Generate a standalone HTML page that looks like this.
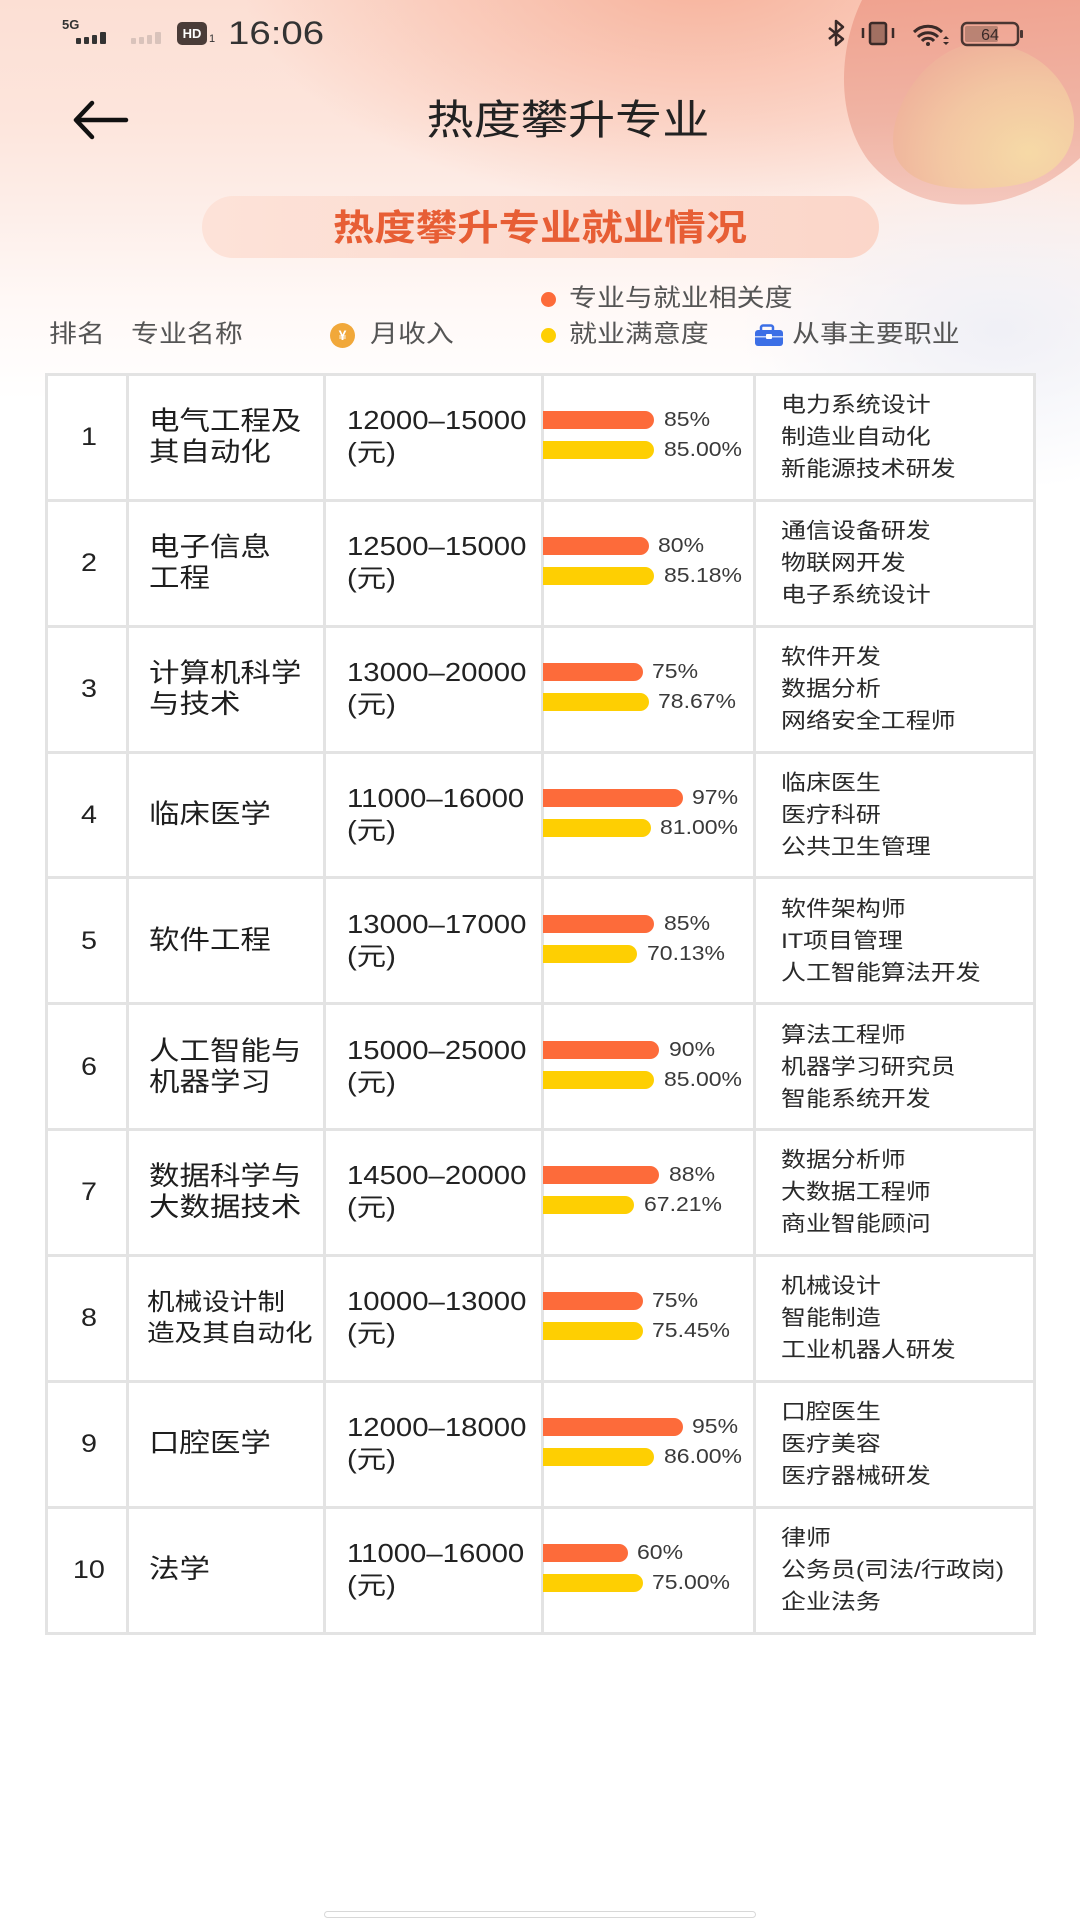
<!DOCTYPE html>
<html><head><meta charset="utf-8">
<style>
*{margin:0;padding:0;box-sizing:border-box}
html,body{width:1080px;height:1920px;overflow:hidden;background:#fff}
body{position:relative;font-family:"Liberation Sans","Noto Sans CJK SC",sans-serif;color:#222}
.abs{position:absolute}
.sx{display:inline-block;transform:scaleX(1.15);transform-origin:0 50%;white-space:nowrap}
.sxc{display:inline-block;transform:scaleX(1.15);transform-origin:50% 50%;white-space:nowrap}
.bgtop{position:absolute;left:0;top:0;width:1080px;height:520px;
background:
radial-gradient(ellipse 260px 160px at 1000px 330px, rgba(238,239,246,0.9), rgba(238,239,246,0) 100%),
radial-gradient(ellipse 460px 240px at 700px -30px, rgba(246,170,145,0.85), rgba(246,170,145,0) 100%),
linear-gradient(180deg,#fcdfd4 0px,#fde5dc 120px,#fdefea 220px,#fff8f6 300px,#ffffff 400px);}
.tbl{position:absolute;left:46px;top:374px;width:988px;height:1259px;background:#fff}
.vl{position:absolute;top:373px;width:3px;height:1262px;background:#e3e3e3}
.hl{position:absolute;left:45px;width:991px;height:3px;background:#e3e3e3}
.row{position:absolute;left:0;width:1080px;height:126px}
.rk{position:absolute;left:46px;width:86px;top:48px;line-height:30px;text-align:center;font-size:25px;color:#222}
.nm{position:absolute;left:149px;top:32px;line-height:31px;font-size:26.5px;color:#1e1e1e}
.nm1{top:47px}
.nm8{font-size:24px;left:147px}
.inc{position:absolute;left:347px;top:31px;line-height:32px;font-size:25.5px;color:#222}
.bo,.by{position:absolute;left:543px;height:18px;border-radius:0 9px 9px 0}
.bo{top:37px;background:#fd6b3a}
.by{top:67px;background:#fecf02}
.lo,.ly{position:absolute;line-height:24px;font-size:20px;color:#3a3a3a}
.lo{top:34px}
.ly{top:64px}
.jb{position:absolute;left:781px;top:15px;line-height:32px;font-size:21.7px;color:#2a2a2a}
.lg{position:absolute;font-size:24.3px;line-height:30px;color:#555}
.dot{position:absolute;width:15px;height:15px;border-radius:50%}
</style></head><body>
<div class="bgtop"></div>
<svg class="abs" style="left:0;top:0" width="1080" height="260">
<defs>
<linearGradient id="pg" x1="0" y1="0" x2="0" y2="1">
<stop offset="0" stop-color="#ef9f8c"/><stop offset="0.6" stop-color="#efb0a0"/><stop offset="1" stop-color="#f3c3b8"/>
</linearGradient>
<radialGradient id="ig" cx="0.75" cy="0.75" r="0.8">
<stop offset="0" stop-color="#f6dba6"/><stop offset="0.6" stop-color="#f3c7a2"/><stop offset="1" stop-color="#efb39b"/>
</radialGradient>
</defs>
<path d="M862 0 C842 40 832 110 868 160 C900 200 950 210 995 202 C1035 194 1065 172 1080 158 L1080 0 Z" fill="url(#pg)" opacity="0.9"/>
<path d="M965 45 C915 60 885 120 895 155 C910 190 960 192 1010 186 C1050 180 1075 158 1074 120 C1072 80 1030 35 965 45 Z" fill="url(#ig)" opacity="0.95"/>
</svg>

<!-- status bar -->
<div class="abs" style="left:62px;top:17px;font-size:13px;font-weight:bold;color:#333">5G</div>
<div class="abs" style="left:76px;top:38px;width:5px;height:6px;background:#333;border-radius:1px"></div>
<div class="abs" style="left:84px;top:37px;width:5px;height:7px;background:#333;border-radius:1px"></div>
<div class="abs" style="left:92px;top:35px;width:5px;height:9px;background:#333;border-radius:1px"></div>
<div class="abs" style="left:100px;top:32px;width:6px;height:12px;background:#333;border-radius:1px"></div>
<div class="abs" style="left:131px;top:38px;width:5px;height:6px;background:#d9c3bb;border-radius:1px"></div>
<div class="abs" style="left:139px;top:37px;width:5px;height:7px;background:#d9c3bb;border-radius:1px"></div>
<div class="abs" style="left:147px;top:35px;width:5px;height:9px;background:#d9c3bb;border-radius:1px"></div>
<div class="abs" style="left:155px;top:32px;width:6px;height:12px;background:#d9c3bb;border-radius:1px"></div>
<div class="abs" style="left:177px;top:22px;width:30px;height:23px;background:#4a3c38;border-radius:5px;color:#fff;font-size:13px;font-weight:bold;line-height:23px;text-align:center">HD</div>
<div class="abs" style="left:209px;top:33px;font-size:11px;color:#333">1</div>
<div class="abs" style="left:228px;top:14px;font-size:32px;line-height:38px;color:#333"><span class="sx" style="transform:scaleX(1.2)">16:06</span></div>
<svg class="abs" style="left:0;top:0" width="1080" height="60">
<path d="M829 28 L843 39 L836 45 L836 21 L843 27 L829 39" stroke="#3a2a28" stroke-width="2.5" fill="none" stroke-linejoin="round"/>
<rect x="870" y="23" width="16" height="21" rx="2" fill="#a27062" stroke="#3a2a28" stroke-width="2.5"/>
<line x1="863" y1="28" x2="863" y2="38" stroke="#3a2a28" stroke-width="2.5"/>
<line x1="893" y1="28" x2="893" y2="38" stroke="#3a2a28" stroke-width="2.5"/>
<path d="M914 32 A20 20 0 0 1 942 32" stroke="#3a2a28" stroke-width="3" fill="none"/>
<path d="M918 37 A14 14 0 0 1 938 37" stroke="#3a2a28" stroke-width="3" fill="none"/>
<path d="M922 41 A8 8 0 0 1 934 41" stroke="#3a2a28" stroke-width="3" fill="none"/>
<circle cx="928" cy="44" r="2" fill="#3a2a28"/>
<path d="M943 39 L946 36 L949 39 Z M943 42 L946 45 L949 42 Z" fill="#3a2a28"/>
<rect x="962" y="23" width="56" height="22" rx="5" fill="none" stroke="#4a3632" stroke-width="2.5"/>
<rect x="965" y="26" width="33" height="16" rx="2" fill="#b07d6d" opacity="0.85"/>
<rect x="1020" y="30" width="3" height="8" rx="1" fill="#4a3632"/>
<text x="990" y="40" font-size="16" fill="#3a2a28" text-anchor="middle" font-family="Liberation Sans">64</text>
</svg>

<!-- nav -->
<svg class="abs" style="left:0;top:90px" width="150" height="60">
<path d="M126 30 L77 30 M92 13 L76 30 L92 47" stroke="#111" stroke-width="4.5" fill="none" stroke-linecap="round" stroke-linejoin="round"/>
</svg>
<div class="abs" style="left:28px;top:94px;width:1080px;text-align:center;font-size:41px;line-height:52px;color:#222"><span class="sxc">热度攀升专业</span></div>

<!-- banner -->
<div class="abs" style="left:202px;top:196px;width:677px;height:62px;border-radius:31px;background:linear-gradient(90deg,#fde2d8,#fbd6c9)"></div>
<div class="abs" style="left:0;top:206px;width:1081px;text-align:center;font-size:36px;line-height:44px;font-weight:bold;color:#e75e35"><span class="sxc">热度攀升专业就业情况</span></div>

<!-- legend / header -->
<div class="dot" style="left:541px;top:292px;background:#fd6b3a"></div>
<div class="lg" style="left:569px;top:284px"><span class="sx">专业与就业相关度</span></div>
<div class="lg" style="left:49px;top:320px"><span class="sx">排名</span></div>
<div class="lg" style="left:131px;top:320px"><span class="sx">专业名称</span></div>
<div class="abs" style="left:330px;top:323px;width:25px;height:25px;border-radius:50%;background:#f1a83a;color:#fff;font-size:14px;font-weight:bold;line-height:25px;text-align:center">¥</div>
<div class="lg" style="left:370px;top:320px"><span class="sx">月收入</span></div>
<div class="dot" style="left:541px;top:328px;background:#fecf02"></div>
<div class="lg" style="left:569px;top:320px"><span class="sx">就业满意度</span></div>
<svg class="abs" style="left:753px;top:324px" width="32" height="24">
<rect x="8" y="1.5" width="12" height="6" rx="2" fill="none" stroke="#3c6fe6" stroke-width="2.5"/>
<rect x="2" y="6" width="28" height="16" rx="3" fill="#3c6fe6"/>
<rect x="2" y="12" width="28" height="1.5" fill="#fff" opacity="0.7"/>
<rect x="13" y="10" width="6" height="5" rx="1" fill="#fff"/>
</svg>
<div class="lg" style="left:792px;top:320px"><span class="sx">从事主要职业</span></div>

<!-- table -->
<div class="tbl"></div>
<div class="vl" style="left:45px"></div>
<div class="vl" style="left:126px"></div>
<div class="vl" style="left:323px"></div>
<div class="vl" style="left:541px"></div>
<div class="vl" style="left:753px"></div>
<div class="vl" style="left:1033px"></div>
<div class="hl" style="top:373px"></div>
<div class="hl" style="top:499px"></div>
<div class="hl" style="top:625px"></div>
<div class="hl" style="top:751px"></div>
<div class="hl" style="top:876px"></div>
<div class="hl" style="top:1002px"></div>
<div class="hl" style="top:1128px"></div>
<div class="hl" style="top:1254px"></div>
<div class="hl" style="top:1380px"></div>
<div class="hl" style="top:1506px"></div>
<div class="hl" style="top:1632px"></div>

<div class="row" style="top:374px">
<div class="rk"><span class="sxc">1</span></div>
<div class="nm"><span class="sx">电气工程及<br>其自动化</span></div>
<div class="inc"><span class="sx">12000–15000<br>(元)</span></div>
<div class="bo" style="width:111px"></div><div class="lo" style="left:664px"><span class="sx">85%</span></div>
<div class="by" style="width:111px"></div><div class="ly" style="left:664px"><span class="sx">85.00%</span></div>
<div class="jb"><span class="sx">电力系统设计<br>制造业自动化<br>新能源技术研发</span></div>
</div>

<div class="row" style="top:500px">
<div class="rk"><span class="sxc">2</span></div>
<div class="nm"><span class="sx">电子信息<br>工程</span></div>
<div class="inc"><span class="sx">12500–15000<br>(元)</span></div>
<div class="bo" style="width:106px"></div><div class="lo" style="left:658px"><span class="sx">80%</span></div>
<div class="by" style="width:111px"></div><div class="ly" style="left:664px"><span class="sx">85.18%</span></div>
<div class="jb"><span class="sx">通信设备研发<br>物联网开发<br>电子系统设计</span></div>
</div>

<div class="row" style="top:626px">
<div class="rk"><span class="sxc">3</span></div>
<div class="nm"><span class="sx">计算机科学<br>与技术</span></div>
<div class="inc"><span class="sx">13000–20000<br>(元)</span></div>
<div class="bo" style="width:100px"></div><div class="lo" style="left:652px"><span class="sx">75%</span></div>
<div class="by" style="width:106px"></div><div class="ly" style="left:658px"><span class="sx">78.67%</span></div>
<div class="jb"><span class="sx">软件开发<br>数据分析<br>网络安全工程师</span></div>
</div>

<div class="row" style="top:752px">
<div class="rk"><span class="sxc">4</span></div>
<div class="nm nm1"><span class="sx">临床医学</span></div>
<div class="inc"><span class="sx">11000–16000<br>(元)</span></div>
<div class="bo" style="width:140px"></div><div class="lo" style="left:692px"><span class="sx">97%</span></div>
<div class="by" style="width:108px"></div><div class="ly" style="left:660px"><span class="sx">81.00%</span></div>
<div class="jb"><span class="sx">临床医生<br>医疗科研<br>公共卫生管理</span></div>
</div>

<div class="row" style="top:878px">
<div class="rk"><span class="sxc">5</span></div>
<div class="nm nm1"><span class="sx">软件工程</span></div>
<div class="inc"><span class="sx">13000–17000<br>(元)</span></div>
<div class="bo" style="width:111px"></div><div class="lo" style="left:664px"><span class="sx">85%</span></div>
<div class="by" style="width:94px"></div><div class="ly" style="left:647px"><span class="sx">70.13%</span></div>
<div class="jb"><span class="sx">软件架构师<br>IT项目管理<br>人工智能算法开发</span></div>
</div>

<div class="row" style="top:1003.5px">
<div class="rk"><span class="sxc">6</span></div>
<div class="nm"><span class="sx">人工智能与<br>机器学习</span></div>
<div class="inc"><span class="sx">15000–25000<br>(元)</span></div>
<div class="bo" style="width:116px"></div><div class="lo" style="left:669px"><span class="sx">90%</span></div>
<div class="by" style="width:111px"></div><div class="ly" style="left:664px"><span class="sx">85.00%</span></div>
<div class="jb"><span class="sx">算法工程师<br>机器学习研究员<br>智能系统开发</span></div>
</div>

<div class="row" style="top:1129.4px">
<div class="rk"><span class="sxc">7</span></div>
<div class="nm"><span class="sx">数据科学与<br>大数据技术</span></div>
<div class="inc"><span class="sx">14500–20000<br>(元)</span></div>
<div class="bo" style="width:116px"></div><div class="lo" style="left:669px"><span class="sx">88%</span></div>
<div class="by" style="width:91px"></div><div class="ly" style="left:644px"><span class="sx">67.21%</span></div>
<div class="jb"><span class="sx">数据分析师<br>大数据工程师<br>商业智能顾问</span></div>
</div>

<div class="row" style="top:1255.3px">
<div class="rk"><span class="sxc">8</span></div>
<div class="nm nm8"><span class="sx">机械设计制<br>造及其自动化</span></div>
<div class="inc"><span class="sx">10000–13000<br>(元)</span></div>
<div class="bo" style="width:100px"></div><div class="lo" style="left:652px"><span class="sx">75%</span></div>
<div class="by" style="width:100px"></div><div class="ly" style="left:652px"><span class="sx">75.45%</span></div>
<div class="jb"><span class="sx">机械设计<br>智能制造<br>工业机器人研发</span></div>
</div>

<div class="row" style="top:1381.2px">
<div class="rk"><span class="sxc">9</span></div>
<div class="nm nm1"><span class="sx">口腔医学</span></div>
<div class="inc"><span class="sx">12000–18000<br>(元)</span></div>
<div class="bo" style="width:140px"></div><div class="lo" style="left:692px"><span class="sx">95%</span></div>
<div class="by" style="width:111px"></div><div class="ly" style="left:664px"><span class="sx">86.00%</span></div>
<div class="jb"><span class="sx">口腔医生<br>医疗美容<br>医疗器械研发</span></div>
</div>

<div class="row" style="top:1507.1px">
<div class="rk"><span class="sxc">10</span></div>
<div class="nm nm1"><span class="sx">法学</span></div>
<div class="inc"><span class="sx">11000–16000<br>(元)</span></div>
<div class="bo" style="width:85px"></div><div class="lo" style="left:637px"><span class="sx">60%</span></div>
<div class="by" style="width:100px"></div><div class="ly" style="left:652px"><span class="sx">75.00%</span></div>
<div class="jb"><span class="sx">律师<br>公务员(司法/行政岗)<br>企业法务</span></div>
</div>

<!-- home indicator -->
<div class="abs" style="left:324px;top:1911px;width:432px;height:7px;border-radius:4px;background:#fff;border:1px solid #d8d8d8"></div>
</body></html>
